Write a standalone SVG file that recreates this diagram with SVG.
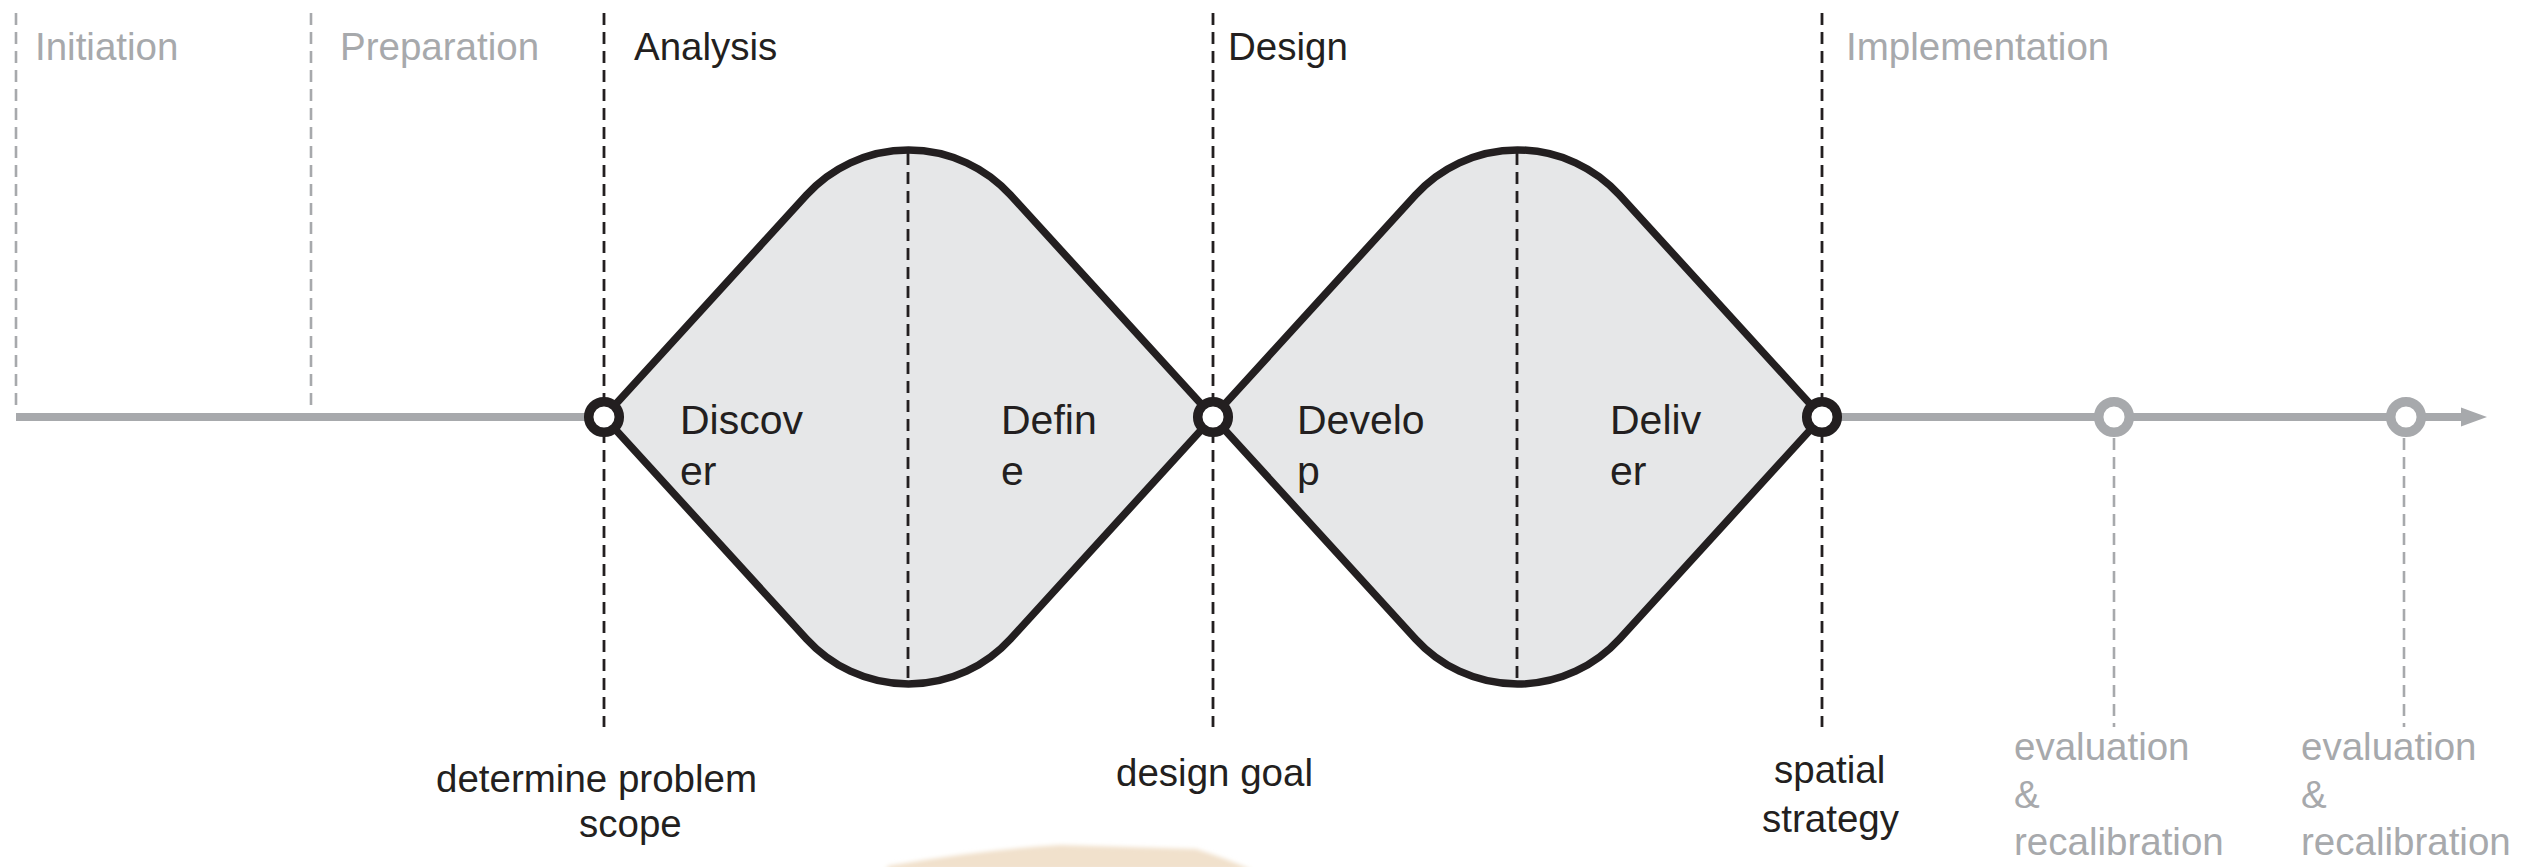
<svg xmlns="http://www.w3.org/2000/svg" width="2545" height="867" viewBox="0 0 2545 867">
  <style>
    .t { font-family: "Liberation Sans", Arial, Helvetica, sans-serif; font-size: 38.5px; }
    .in { font-family: "Liberation Sans", Arial, Helvetica, sans-serif; font-size: 41px; fill: #231f20; }
    .dark { fill: #231f20; }
    .grey { fill: #a7a9ac; }
    .dk { stroke: #231f20; stroke-width: 2.8; stroke-dasharray: 12 7; fill: none; }
    .gy { stroke: #a7a9ac; stroke-width: 2.6; stroke-dasharray: 12 7; fill: none; }
    .shape { fill: #e6e7e8; stroke: #231f20; stroke-width: 7.5; stroke-linejoin: round; }
    .nb { fill: #ffffff; stroke: #231f20; stroke-width: 9.5; }
    .ng { fill: #ffffff; stroke: #a7a9ac; stroke-width: 9.5; }
  </style>
  <defs>
    <filter id="soft" x="-10%" y="-50%" width="120%" height="200%">
      <feGaussianBlur stdDeviation="2"/>
    </filter>
  </defs>

  <rect width="2545" height="867" fill="#ffffff"/>

  <!-- background blob -->
  <path d="M 886 870 L 888 866 Q 980 850 1060 845 L 1196 849 Q 1225 858 1252 870 Z" fill="#f1e1cc" filter="url(#soft)"/>

  <!-- phase dividers -->
  <g id="dividers">
    <line class="gy" x1="16" y1="13" x2="16" y2="408"/>
    <line class="gy" x1="311" y1="13" x2="311" y2="408"/>
    <line class="dk" x1="604" y1="13" x2="604" y2="727"/>
    <line class="dk" x1="1213" y1="13" x2="1213" y2="727"/>
    <line class="dk" x1="1822" y1="13" x2="1822" y2="727"/>
    <line class="gy" x1="2114" y1="438" x2="2114" y2="727"/>
    <line class="gy" x1="2404" y1="438" x2="2404" y2="727"/>
  </g>

  <!-- connectors: timeline axis -->
  <g id="connectors">
    <line x1="16" y1="417" x2="2464" y2="417" stroke="#a7a9ac" stroke-width="8"/>
    <polygon points="2461,407.5 2487,417 2461,426.5" fill="#a7a9ac"/>
  </g>

  <!-- diamond 1 -->
  <g id="diamond-analysis">
    <path class="shape" d="M 604 417 L 806.5 195 A 138 138 0 0 1 1010.5 195 L 1213 417 L 1010.5 639 A 138 138 0 0 1 806.5 639 Z"/>
    <line class="dk" x1="908" y1="153" x2="908" y2="683"/>
  </g>

  <!-- diamond 2 -->
  <g id="diamond-design">
    <path class="shape" d="M 1213 417 L 1415.5 195 A 138 138 0 0 1 1619.5 195 L 1822 417 L 1619.5 639 A 138 138 0 0 1 1415.5 639 Z"/>
    <line class="dk" x1="1517" y1="153" x2="1517" y2="683"/>
  </g>

  <!-- milestone nodes -->
  <g id="node-problem-scope"><circle class="nb" cx="604" cy="417" r="15.3"/></g>
  <g id="node-design-goal"><circle class="nb" cx="1213" cy="417" r="15.3"/></g>
  <g id="node-spatial-strategy"><circle class="nb" cx="1822" cy="417" r="15.3"/></g>
  <g id="node-eval-1"><circle class="ng" cx="2114" cy="417" r="15.3"/></g>
  <g id="node-eval-2"><circle class="ng" cx="2406" cy="417" r="15.3"/></g>

  <!-- phase labels -->
  <g id="phase-labels">
    <text class="t grey" x="35" y="60">Initiation</text>
    <text class="t grey" x="340" y="60">Preparation</text>
    <text class="t dark" x="634" y="60">Analysis</text>
    <text class="t dark" x="1228" y="60">Design</text>
    <text class="t grey" x="1846" y="60">Implementation</text>
  </g>

  <!-- inner labels -->
  <g id="inner-labels">
    <text class="in" x="680" y="434">Discov</text>
    <text class="in" x="680" y="485">er</text>
    <text class="in" x="1001" y="434">Defin</text>
    <text class="in" x="1001" y="485">e</text>
    <text class="in" x="1297" y="434">Develo</text>
    <text class="in" x="1297" y="485">p</text>
    <text class="in" x="1610" y="434">Deliv</text>
    <text class="in" x="1610" y="485">er</text>
  </g>

  <!-- milestone labels -->
  <g id="milestone-labels">
    <text class="t dark" x="436" y="792">determine problem</text>
    <text class="t dark" x="579" y="837">scope</text>
    <text class="t dark" x="1116" y="786">design goal</text>
    <text class="t dark" x="1774" y="783">spatial</text>
    <text class="t dark" x="1762" y="832">strategy</text>
    <text class="t grey" x="2014" y="760">evaluation</text>
    <text class="t grey" x="2014" y="808">&amp;</text>
    <text class="t grey" x="2014" y="855">recalibration</text>
    <text class="t grey" x="2301" y="760">evaluation</text>
    <text class="t grey" x="2301" y="808">&amp;</text>
    <text class="t grey" x="2301" y="855">recalibration</text>
  </g>
</svg>
